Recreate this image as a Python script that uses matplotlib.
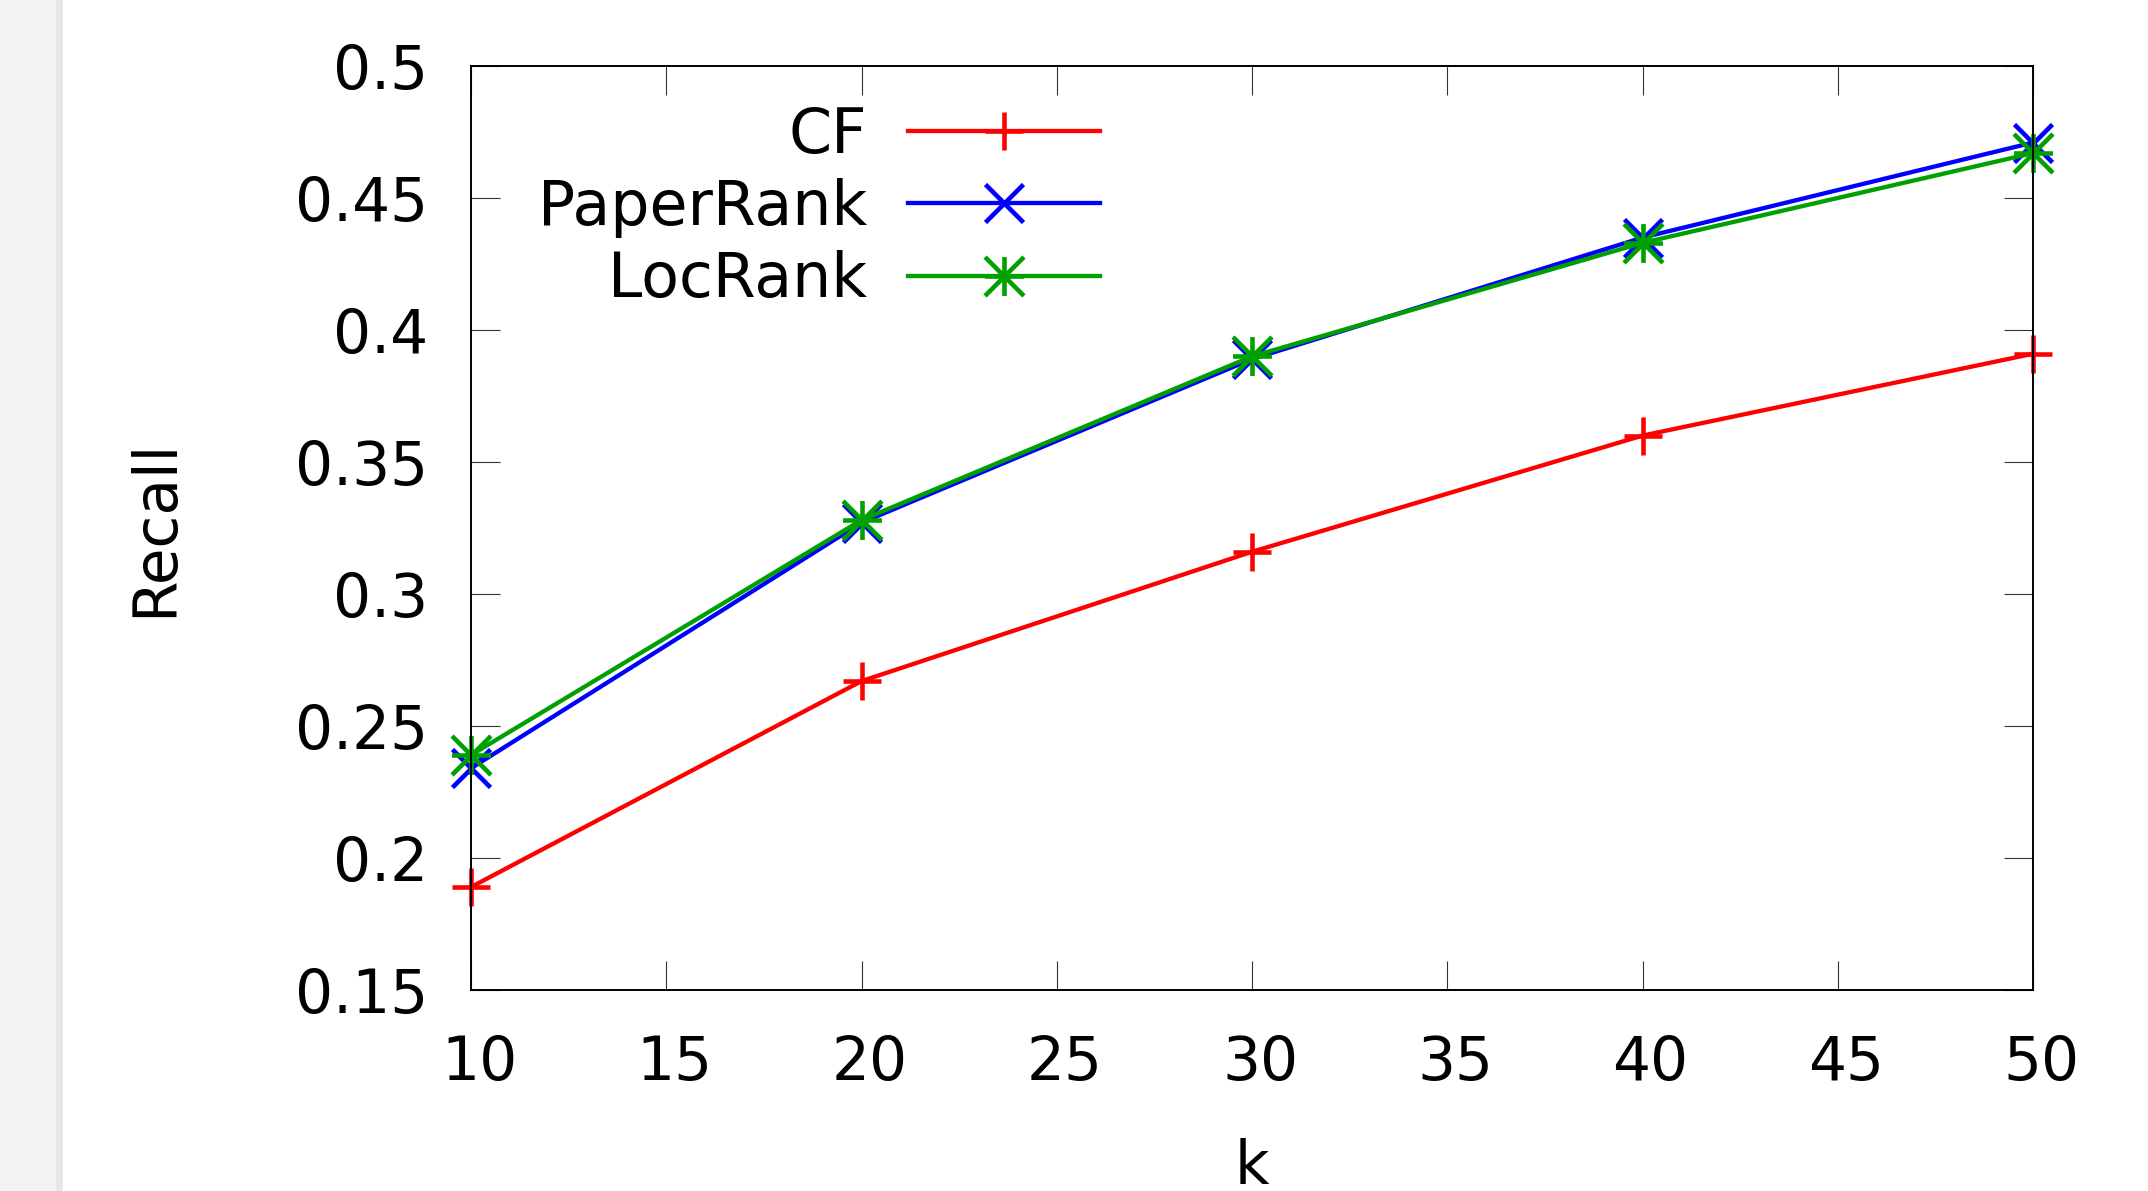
import numpy as np
import matplotlib.pyplot as plt
import matplotlib.transforms as mtransforms
from matplotlib.path import Path
from matplotlib.patches import Rectangle

# data
k_values = [10, 20, 30, 40, 50]
cf_recall = [0.189, 0.267, 0.316, 0.360, 0.391]
paperrank_recall = [0.234, 0.327, 0.389, 0.435, 0.471]
locrank_recall = [0.239, 0.328, 0.390, 0.433, 0.467]

x_ticks = [10, 15, 20, 25, 30, 35, 40, 45, 50]
y_ticks = [0.15, 0.2, 0.25, 0.3, 0.35, 0.4, 0.45, 0.5]
y_tick_labels = ['0.15', '0.2', '0.25', '0.3', '0.35', '0.4', '0.45', '0.5']

plt.rcParams['font.family'] = ['DejaVu Sans']
FS = 43

# gnuplot style asterisk: plus and cross on top of each other
star = Path([(-1, 0), (1, 0), (0, -1), (0, 1), (-1, -1), (1, 1), (-1, 1), (1, -1)],
            [Path.MOVETO, Path.LINETO] * 4)

fig = plt.figure(figsize=(21.48, 11.91), dpi=100)

# grey strip on the left edge of the page
fig.patches.append(Rectangle((0, 0), 56 / 2148, 1, transform=fig.transFigure,
                             facecolor='#f3f3f3', edgecolor='none', zorder=0))
fig.patches.append(Rectangle((56 / 2148, 0), 7 / 2148, 1, transform=fig.transFigure,
                             facecolor='#e6e6e6', edgecolor='none', zorder=0))

ax = fig.add_axes([471 / 2148, 201 / 1191, 1562 / 2148, 924 / 1191])

lw = 3.1
ms = 28
mew = 3.3
ax.plot(k_values, cf_recall, color='#ff0000', lw=lw, marker='+', ms=ms, mew=mew,
        label='CF', clip_on=False)
ax.plot(k_values, paperrank_recall, color='#0000ff', lw=lw, marker='x', ms=ms, mew=mew,
        label='PaperRank', clip_on=False)
ax.plot(k_values, locrank_recall, color='#00a000', lw=lw, marker=star, ms=ms, mew=mew,
        mfc='none', label='LocRank', clip_on=False)

ax.set_xlim(10, 50)
ax.set_ylim(0.15, 0.5)
ax.set_xticks(x_ticks)
ax.set_yticks(y_ticks)
ax.set_yticklabels(y_tick_labels)

ax.tick_params(direction='in', length=21, width=0.8, top=True, right=True,
               labelsize=FS, color='#333333')
ax.tick_params(axis='x', pad=32)
ax.tick_params(axis='y', pad=31)
for s in ax.spines.values():
    s.set_linewidth(1.4)

# gnuplot nudges the x labels slightly right
shift = mtransforms.ScaledTranslation(8 / 100, 0, fig.dpi_scale_trans)
for lbl in ax.get_xticklabels():
    lbl.set_transform(lbl.get_transform() + shift)

ax.set_xlabel('k', fontsize=FS, va='top')
ax.xaxis.set_label_coords(0.5, -0.160)
ax.set_ylabel('Recall', fontsize=FS, va='bottom')
ax.yaxis.set_label_coords(-0.183, 0.5)

leg = ax.legend(loc='upper right', bbox_to_anchor=((1100 - 471) / 1562, 0.957),
                frameon=False, markerfirst=False, fontsize=44.5, borderpad=0,
                handlelength=3.1, handletextpad=0.66, labelspacing=0.2,
                borderaxespad=0)
for t in leg.get_texts():
    t.set_ha('right')

fig.savefig('out.png', dpi=100)
